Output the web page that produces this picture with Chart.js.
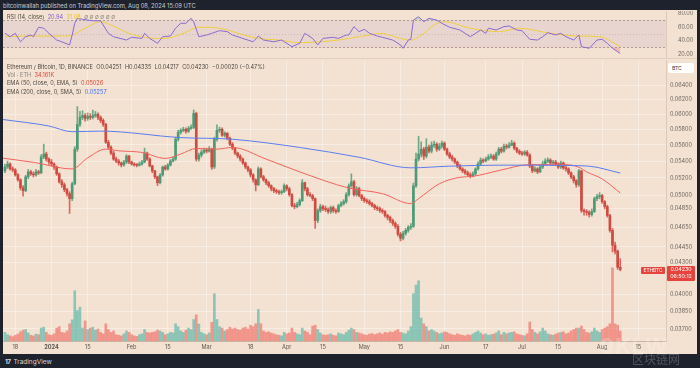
<!DOCTYPE html>
<html>
<head>
<meta charset="utf-8">
<script src="https://cdn.jsdelivr.net/npm/chart.js@4.4.1/dist/chart.umd.min.js"></script>
<style>
  html, body { margin:0; padding:0; background:#1e222d; }
  #wrap { position:relative; width:700px; height:368px; overflow:hidden; background:#1e222d;
          font-family: Inter, "Noto Sans", "DejaVu Sans", sans-serif; }
  .abs { position:absolute; white-space:nowrap; }
  #panel { left:3px; top:10px; width:694px; height:344px; background:#f3e2d1; }
  #sep { left:3px; top:58px; width:694px; height:1px; background:#e2cfbc; }
  canvas { position:absolute; }
  #rsi { left:3px; top:11px; }
  #main { left:3px; top:60px; }
  #hdr { left:3px; top:1.5px; font-size:5.8px; line-height:8px; color:#c9ccd3; }
  .lg { left:7px; font-size:5.6px; line-height:8px; color:#4d4843; }
  .lg span { margin-right:3.4px; }
  .red { color:#e5443d; }
  .blue { color:#3f6ff0; }
  .pur { color:#7e5ccc; }
  .yel { color:#e7bf22; }
  .gry { color:#8a847e; }
  #btc { left:668px; top:63px; width:26px; height:10px; background:#ffffff; border-radius:2px;
         font-size:5px; line-height:10px; color:#333; padding-left:0; text-indent:4px; }
  .plab { background:#e5443d; color:#fff; text-align:center; border-radius:1px; }
  #foot { left:5px; top:358px; font-size:6.5px; line-height:8px; color:#d1d4dc; }
  #wm1 { left:632px; top:352px; font-size:12px; line-height:14px; color:rgba(255,255,255,0.22); font-family:"Noto Sans CJK SC", sans-serif; }
  #wm2 { left:600px; top:334px; font-size:22px; line-height:24px; font-weight:bold; color:rgba(255,255,255,0.2); letter-spacing:1px; }
</style>
</head>
<body>
<div id="wrap">
  <div id="hdr" class="abs">bitcoinwallah published on TradingView.com, Aug 08, 2024 15:09 UTC</div>
  <div id="panel" class="abs"></div>
  <canvas id="rsi" width="694" height="47"></canvas>
  <div id="sep" class="abs"></div>
  <canvas id="main" width="694" height="294"></canvas>

  <div class="abs lg" style="top:13.3px"><span>RSI (14, close)</span><span class="pur">20.94</span><span class="yel">31.08</span><span class="gry">∅ ∅ ∅ ∅ ∅ ∅</span></div>
  <div class="abs lg" style="top:62.7px"><span>Ethereum / Bitcoin, 1D, BINANCE</span><span>O0.04251</span><span>H0.04335</span><span>L0.04217</span><span>C0.04230</span><span>−0.00020 (−0.47%)</span></div>
  <div class="abs lg" style="top:71px"><span class="gry">Vol · ETH</span><span class="red">34.161K</span></div>
  <div class="abs lg" style="top:79.3px"><span>EMA (50, close, 0, EMA, 5)</span><span class="red">0.05026</span></div>
  <div class="abs lg" style="top:87.7px"><span>EMA (200, close, 0, SMA, 5)</span><span class="blue">0.05257</span></div>

  <div id="btc" class="abs">BTC</div>
  <div class="abs plab" style="left:641px;top:267px;width:24px;height:7px;font-size:4.8px;line-height:7px;">ETHBTC</div>
  <div class="abs plab" style="left:667px;top:266px;width:28px;height:14.5px;font-size:5.3px;line-height:7px;">0.04230<br>06:50:12</div>

  <div id="wm2" class="abs">9KLW</div>
  <div id="wm1" class="abs">区块链网</div>
  <div id="foot" class="abs"><b style="letter-spacing:-0.6px;margin-right:3px;">17</b>TradingView</div>
</div>

<script>
// ---------- DATA (daily candles, 14 Dec 2023 .. 8 Aug 2024) ----------
const firstDay = -18;          // days relative to 1 Jan 2024
const firstOpen = 0.05282;
const closes = [
  .05329,.05365,.05306,.05294,.05235,.05177,.05085,.05052,.05212,.05271,
  .05247,.05235,.05271,.05259,.05450,.05487,.05425,.05389,.05365,.05329,
  .05247,.05154,.05120,.05063,.05018,.04962,.05131,.05548,.05866,.05959,
  .05985,.05945,.05972,.05959,.05985,.05999,.05959,.05919,.05866,.05635,
  .05573,.05499,.05425,.05401,.05377,.05353,.05389,.05462,.05389,.05365,
  .05353,.05350,.05365,.05389,.05499,.05425,.05341,.05282,.05212,.05143,
  .05235,.05329,.05306,.05353,.05401,.05425,.05673,.05762,.05788,.05801,
  .05775,.05814,.05827,.06012,.05425,.05474,.05511,.05536,.05523,.05548,
  .05329,.05673,.05788,.05801,.05724,.05750,.05686,.05610,.05560,.05499,
  .05462,.05425,.05377,.05329,.05294,.05235,.05177,.05120,.05306,.05212,
  .05177,.05143,.05108,.05074,.05052,.05040,.05029,.05040,.05108,.05074,
  .05007,.04885,.04874,.04896,.04940,.05143,.05074,.05007,.04996,.04962,
  .04724,.04831,.04874,.04852,.04842,.04820,.04863,.04831,.04820,.04885,
  .04907,.04929,.05007,.05108,.05154,.05007,.05074,.04996,.04962,.04940,
  .04929,.04907,.04885,.04863,.04852,.04831,.04820,.04777,.04756,.04724,
  .04693,.04662,.04579,.04538,.04589,.04620,.04651,.04662,.05108,.05425,
  .05487,.05548,.05462,.05573,.05523,.05598,.05610,.05548,.05585,.05623,
  .05548,.05487,.05450,.05425,.05389,.05341,.05306,.05282,.05259,.05235,
  .05224,.05247,.05306,.05365,.05413,.05401,.05425,.05450,.05462,.05425,
  .05487,.05548,.05523,.05585,.05573,.05598,.05623,.05560,.05523,.05499,
  .05487,.05511,.05474,.05341,.05282,.05306,.05271,.05329,.05365,.05401,
  .05413,.05377,.05389,.05365,.05329,.05377,.05318,.05306,.05259,.05212,
  .05166,.05120,.05282,.04831,.04820,.04810,.04788,.04820,.04962,.04985,
  .04996,.04929,.04874,.04777,.04620,.04468,.04408,.04251,.04230
];
const highs = [
  .05360,.05400,.05380,.05330,.05310,.05250,.05190,.05110,.05230,.05300,
  .05290,.05270,.05300,.05290,.05480,.05610,.05510,.05440,.05420,.05380,
  .05340,.05260,.05180,.05140,.05080,.05040,.05150,.05580,.06107,.06040,
  .06050,.06010,.06020,.06010,.06060,.06040,.06020,.05980,.05940,.05880,
  .05660,.05590,.05520,.05450,.05420,.05390,.05410,.05480,.05470,.05400,
  .05380,.05370,.05390,.05410,.05560,.05510,.05440,.05350,.05290,.05220,
  .05250,.05340,.05350,.05370,.05420,.05450,.05700,.05790,.05810,.05830,
  .05820,.05840,.05860,.06060,.06030,.05500,.05540,.05560,.05560,.05580,
  .05560,.05700,.05860,.05830,.05820,.05770,.05760,.05700,.05630,.05570,
  .05510,.05480,.05440,.05390,.05340,.05310,.05250,.05190,.05330,.05320,
  .05230,.05190,.05160,.05120,.05090,.05070,.05060,.05060,.05130,.05120,
  .05090,.05020,.04910,.04920,.04960,.05180,.05150,.05090,.05030,.05010,
  .04970,.04850,.04900,.04890,.04880,.04860,.04880,.04880,.04850,.04900,
  .04930,.04950,.05030,.05130,.05247,.05170,.05100,.05090,.05010,.04980,
  .04960,.04950,.04920,.04900,.04880,.04870,.04850,.04830,.04790,.04770,
  .04740,.04710,.04680,.04600,.04610,.04640,.04670,.04690,.05140,.05500,
  .05711,.05640,.05570,.05680,.05600,.05640,.05650,.05630,.05620,.05650,
  .05640,.05560,.05510,.05470,.05440,.05400,.05360,.05320,.05300,.05280,
  .05260,.05270,.05320,.05390,.05440,.05430,.05450,.05480,.05490,.05480,
  .05510,.05570,.05570,.05610,.05610,.05630,.05660,.05640,.05570,.05540,
  .05520,.05530,.05530,.05490,.05360,.05330,.05320,.05350,.05400,.05430,
  .05440,.05430,.05410,.05410,.05380,.05400,.05390,.05340,.05320,.05270,
  .05230,.05180,.05300,.05290,.04850,.04840,.04830,.04850,.04980,.05010,
  .05030,.05010,.04940,.04890,.04790,.04640,.04500,.04420,.04335
];
const lows = [
  .05260,.05310,.05290,.05270,.05220,.05160,.05060,.04990,.05040,.05190,
  .05230,.05210,.05220,.05240,.05250,.05430,.05400,.05360,.05340,.05300,
  .05230,.05140,.05090,.05040,.04990,.04799,.04940,.05120,.05520,.05840,
  .05930,.05910,.05920,.05930,.05940,.05960,.05930,.05890,.05840,.05620,
  .05550,.05480,.05410,.05380,.05350,.05330,.05340,.05370,.05370,.05350,
  .05340,.05330,.05340,.05350,.05380,.05410,.05330,.05260,.05190,.05110,
  .05130,.05220,.05290,.05290,.05340,.05390,.05410,.05650,.05740,.05770,
  .05750,.05760,.05800,.05810,.05400,.05400,.05450,.05490,.05500,.05510,
  .05300,.05310,.05650,.05760,.05710,.05700,.05670,.05590,.05540,.05480,
  .05440,.05400,.05360,.05310,.05270,.05210,.05150,.05050,.05110,.05200,
  .05160,.05120,.05090,.05050,.05030,.05020,.05010,.05010,.05030,.05050,
  .04990,.04870,.04850,.04860,.04880,.04930,.05050,.04990,.04980,.04940,
  .04641,.04700,.04810,.04830,.04820,.04800,.04800,.04810,.04800,.04810,
  .04870,.04890,.04910,.04990,.05090,.04990,.04990,.04980,.04940,.04920,
  .04910,.04890,.04870,.04840,.04830,.04810,.04800,.04760,.04730,.04700,
  .04670,.04640,.04560,.04510,.04520,.04570,.04600,.04630,.04650,.05090,
  .05400,.05450,.05420,.05440,.05500,.05500,.05570,.05520,.05530,.05560,
  .05530,.05470,.05430,.05400,.05370,.05320,.05290,.05260,.05240,.05220,
  .05200,.05210,.05230,.05290,.05350,.05380,.05390,.05410,.05430,.05410,
  .05410,.05470,.05500,.05510,.05550,.05560,.05590,.05540,.05500,.05480,
  .05470,.05470,.05460,.05320,.05260,.05270,.05250,.05260,.05310,.05350,
  .05380,.05360,.05360,.05350,.05310,.05310,.05300,.05280,.05240,.05190,
  .05140,.05090,.05100,.04810,.04780,.04780,.04760,.04770,.04810,.04940,
  .04960,.04910,.04850,.04760,.04600,.04400,.04380,.04230,.04217
];
// volume in thousand ETH
const volumes = [
  30,22,18,15,20,24,32,38,40,28,
  20,18,24,22,45,48,30,22,20,25,
  45,50,30,28,35,60,74,175,106,118,
  45,70,40,45,48,38,42,30,25,60,
  40,30,35,22,20,18,25,35,30,22,
  18,16,22,25,40,30,28,30,32,38,
  35,30,22,25,30,28,60,50,35,30,
  38,45,40,75,91,59,30,25,22,28,
  65,165,75,50,45,35,40,48,42,45,
  40,38,45,48,42,55,50,60,110,60,
  35,30,32,28,25,22,20,18,30,25,
  28,45,30,25,22,45,35,30,22,52,
  55,40,28,22,20,22,25,20,18,28,
  25,22,30,38,45,40,30,28,25,22,
  20,24,26,22,25,28,24,30,28,32,
  30,35,40,30,28,25,35,50,165,195,
  210,80,60,50,35,40,35,30,25,28,
  32,30,25,22,20,25,22,20,18,22,
  20,25,30,35,28,22,25,20,22,24,
  28,35,22,30,25,28,30,32,25,22,
  20,18,25,66,40,30,25,32,45,35,
  25,22,20,24,28,30,32,25,28,35,
  40,45,45,52,40,30,28,32,45,35,
  30,40,45,50,60,255,60,55,34.161
];
const ema50Days   = [-19,-7,8,14,21,26,35,44,50,56,64,70,83,96,115,128,139,142,150,158,163,173,185,199,204,207,213,220];
const ema50Values = [.05437,.05385,.05306,.05440,.05548,.05527,.05507,.05433,.05487,.05556,.05548,.05569,.05425,.05271,.05082,.05018,.04907,.04962,.05131,.05207,.05218,.05286,.05357,.05357,.05326,.05271,.05188,.05026];
const sma200Days   = [-19,-1,8,19,50,70,96,119,139,154,173,186,199,208,220];
const sma200Values = [.05932,.05845,.05770,.05778,.05694,.05673,.05569,.05447,.05319,.05339,.05351,.05351,.05347,.05339,.05257];
const rsiDays   = [-18,-16,-14,-12,-10,-8,-7,-5,-3,-1,2,4,7,8,9,10,12,14,16,19,20,22,24,29,31,35,36,38,41,43,46,48,50,52,54,55,57,60,62,65,68,70,74,78,80,82,86,89,93,96,98,101,103,105,109,111,114,115,117,119,121,123,126,128,132,135,136,138,139,140,142,144,146,149,151,154,158,162,166,168,169,172,175,177,180,182,185,188,190,192,195,197,199,202,204,205,208,211,213,215,217,219,220];
const rsiValues = [50.5,45.5,50.5,38,45.5,48,45.5,59.4,58,50.5,40.6,38,33.3,48,65.3,72.6,71.2,70,69,69,62.8,50.5,45.5,40.6,44.6,43,50.5,43,35.8,45.5,46.5,58,65.3,65.3,72.6,67.6,45.5,48,50.5,54.4,52.9,48,43,38,46.5,40.6,38,40.6,30.8,35.8,50.5,43,33.3,43,44.6,43,48,48,60.3,52.9,56.4,50.5,46.5,44.6,40.6,33.3,28.4,40.6,41.7,70,75,67.6,72.6,70,65.3,59.4,55.4,45.5,55.4,50.5,58,55.4,60.3,61.3,55.4,54.4,41.7,40.6,45.5,51.4,48,50.5,45.5,40.6,48,30.8,28.4,40.6,41.7,35.8,28.4,23.4,20.94];
const rsiMaDays   = [-18,-8,4,8,13,19,23,30,36,44,51,57,61,67,73,80,88,96,104,111,115,123,127,135,139,144,148,152,162,173,181,193,204,212,220];
const rsiMaValues = [45.5,46.5,46.5,48,58,67.6,62.8,50.5,44.6,43,50.5,59.4,59.4,56.4,49.5,43,40.6,36.7,38,40.6,43,48,50.5,43,40.6,50.5,62.8,67.6,58,52.9,58,50.5,46.5,45.5,31.08];
const tickDays   = [-14,0,14,31,45,60,77,91,105,121,135,152,168,182,196,213,227];
const tickLabels = ['18','2024','15','Feb','15','Mar','18','Apr','15','May','15','Jun','17','Jul','15','Aug','15'];
const priceTicks = [0.064,0.062,0.060,0.058,0.056,0.054,0.052,0.050,0.0485,0.0465,0.0445,0.043,0.040,0.0385,0.037];
const rsiTicks   = [80,60,40,20];

// ---------- derived ----------
const days  = closes.map((c, i) => firstDay + i);
const opens = closes.map((c, i) => i === 0 ? firstOpen : closes[i - 1]);
const isUp  = closes.map((c, i) => c >= opens[i]);

Chart.defaults.font.family = 'Inter, "Noto Sans", sans-serif';
Chart.defaults.animation = false;

const X_MIN = -18.76, X_MAX = 237.7;
const AXIS_W = 31;
const axisColor = '#6a6560';

new Chart(document.getElementById('main'), {
  type: 'bar',
  data: {
    datasets: [
      { type: 'line', data: sma200Days.map((d, i) => ({ x: d, y: sma200Values[i] })),
        borderColor: '#5a7df0', borderWidth: 1, pointRadius: 0, cubicInterpolationMode: 'monotone', yAxisID: 'y', order: 1 },
      { type: 'line', data: ema50Days.map((d, i) => ({ x: d, y: ema50Values[i] })),
        borderColor: '#f2625e', borderWidth: 1, pointRadius: 0, cubicInterpolationMode: 'monotone', yAxisID: 'y', order: 2 },
      { type: 'bar', data: days.map((d, i) => ({ x: d, y: [opens[i], closes[i]] })),
        backgroundColor: isUp.map(u => u ? '#4e9a75' : '#cf4a41'),
        barThickness: 2, grouped: false, minBarLength: 1, yAxisID: 'y', order: 3 },
      { type: 'bar', data: days.map((d, i) => ({ x: d, y: [lows[i], highs[i]] })),
        backgroundColor: isUp.map(u => u ? 'rgba(78,154,117,0.8)' : 'rgba(207,74,65,0.8)'),
        barThickness: 1, grouped: false, yAxisID: 'y', order: 4 },
      { type: 'bar', data: days.map((d, i) => ({ x: d, y: volumes[i] })),
        backgroundColor: isUp.map(u => u ? 'rgba(38,166,154,0.5)' : 'rgba(239,83,80,0.55)'),
        barThickness: 2, grouped: false, yAxisID: 'vol', order: 5 }
    ]
  },
  options: {
    responsive: false, animation: false, events: [],
    layout: { padding: 0 },
    plugins: { legend: { display: false }, tooltip: { enabled: false } },
    scales: {
      x: {
        type: 'linear', min: X_MIN, max: X_MAX, offset: false,
        afterBuildTicks: s => { s.ticks = tickDays.map(v => ({ value: v })); },
        afterFit: s => { s.height = 13; s.paddingLeft = 0; s.paddingRight = 0; },
        ticks: {
          autoSkip: false, maxRotation: 0, padding: 3, color: '#5c5650',
          font: ctx => ({ size: 5.6, weight: (ctx.tick && ctx.tick.value === 0) ? 'bold' : 'normal' }),
          callback: v => tickLabels[tickDays.indexOf(v)]
        },
        grid: { color: 'rgba(255,255,255,0.35)', drawTicks: false, offset: false },
        border: { color: '#c8b4a0' }
      },
      y: {
        type: 'logarithmic', position: 'right', min: 0.036224, max: 0.067825,
        afterBuildTicks: s => { s.ticks = priceTicks.map(v => ({ value: v })); },
        afterFit: s => { s.width = AXIS_W; s.paddingTop = 0; s.paddingBottom = 0; },
        ticks: { callback: v => Number(v).toFixed(5), color: axisColor, font: { size: 5.5 }, padding: 4, autoSkip: false },
        grid: { color: 'rgba(255,255,255,0.4)', drawTicks: false },
        border: { color: '#dcc9b6' }
      },
      vol: { type: 'linear', display: false, min: 0, max: 980 }
    }
  }
});

const rsiBand = {
  id: 'rsiBand',
  beforeDatasetsDraw(chart) {
    const { ctx, chartArea: a, scales: { y } } = chart;
    const y70 = y.getPixelForValue(70), y30 = y.getPixelForValue(30), y50 = y.getPixelForValue(50);
    ctx.save();
    ctx.fillStyle = 'rgba(126,87,194,0.09)';
    ctx.fillRect(a.left, y70, a.right - a.left, y30 - y70);
    ctx.lineWidth = 1;
    ctx.strokeStyle = 'rgba(120,108,104,0.55)';
    ctx.setLineDash([2, 2]);
    [y70, y30].forEach(yy => { ctx.beginPath(); ctx.moveTo(a.left, Math.round(yy) + 0.5); ctx.lineTo(a.right, Math.round(yy) + 0.5); ctx.stroke(); });
    ctx.strokeStyle = 'rgba(120,108,104,0.25)';
    ctx.setLineDash([1, 2]);
    ctx.beginPath(); ctx.moveTo(a.left, Math.round(y50) + 0.5); ctx.lineTo(a.right, Math.round(y50) + 0.5); ctx.stroke();
    ctx.restore();
  }
};

const rsiPts = rsiDays.map((d, i) => ({ x: d, y: rsiValues[i] }));
new Chart(document.getElementById('rsi'), {
  type: 'line',
  data: {
    datasets: [
      { data: rsiPts, borderColor: '#8a6ad0', borderWidth: 1, pointRadius: 0,
        fill: { target: { value: 30 }, above: 'rgba(0,0,0,0)', below: 'rgba(242,54,69,0.22)' }, order: 1 },
      { data: rsiPts, borderColor: 'rgba(0,0,0,0)', borderWidth: 0, pointRadius: 0,
        fill: { target: { value: 70 }, above: 'rgba(38,166,154,0.2)', below: 'rgba(0,0,0,0)' }, order: 3 },
      { data: rsiMaDays.map((d, i) => ({ x: d, y: rsiMaValues[i] })), borderColor: '#f1cc3e', borderWidth: 1,
        pointRadius: 0, cubicInterpolationMode: 'monotone', order: 2 }
    ]
  },
  options: {
    responsive: false, animation: false, events: [],
    layout: { padding: 0 },
    plugins: { legend: { display: false }, tooltip: { enabled: false } },
    scales: {
      x: { type: 'linear', min: X_MIN, max: X_MAX, display: false },
      y: {
        position: 'right', min: 14.1, max: 83.4,
        afterBuildTicks: s => { s.ticks = rsiTicks.map(v => ({ value: v })); },
        afterFit: s => { s.width = AXIS_W; s.paddingTop = 0; s.paddingBottom = 0; },
        ticks: { callback: v => Number(v).toFixed(2), color: axisColor, font: { size: 5.5 }, padding: 4 },
        grid: { display: false },
        border: { color: '#dcc9b6' }
      }
    }
  },
  plugins: [rsiBand]
});
</script>
</body>
</html>
